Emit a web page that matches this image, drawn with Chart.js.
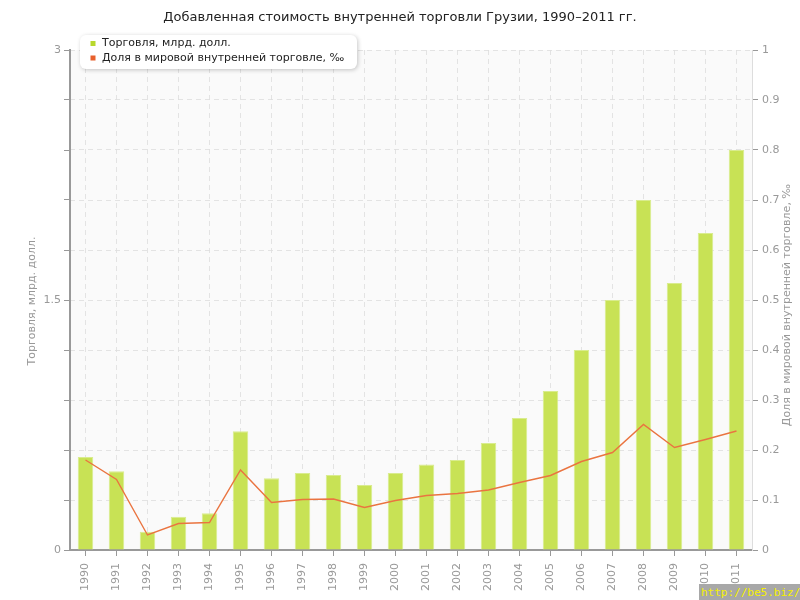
<!DOCTYPE html>
<html>
<head>
<meta charset="utf-8">
<script src="https://cdn.jsdelivr.net/npm/chart.js@4"></script>
<style>
html,body{margin:0;padding:0;background:#fff;}
#wrap{position:relative;width:800px;height:600px;}
#wm{position:absolute;left:699px;top:584px;width:101px;height:16px;background:#a8a8a8;color:#f5f000;font:11px "DejaVu Sans Mono",monospace;line-height:17px;padding-left:2px;box-sizing:border-box;white-space:nowrap;}
</style>
</head>
<body>
<div id="wrap">
<canvas id="c" width="800" height="600"></canvas>
<div id="wm">http://be5.biz/</div>
</div>
<script>
const titleText = 'Добавленная стоимость внутренней торговли Грузии, 1990–2011 гг.';
const years = ['1990','1991','1992','1993','1994','1995','1996','1997','1998','1999','2000','2001','2002','2003','2004','2005','2006','2007','2008','2009','2010','2011'];
const tradeValues = [0.558, 0.473, 0.11, 0.2, 0.22, 0.712, 0.43, 0.462, 0.45, 0.39, 0.462, 0.513, 0.54, 0.642, 0.792, 0.954, 1.2, 1.5, 2.1, 1.602, 1.902, 2.4];
const shareValues = [0.18, 0.141, 0.03, 0.053, 0.055, 0.16, 0.095, 0.101, 0.102, 0.085, 0.099, 0.109, 0.113, 0.12, 0.135, 0.149, 0.177, 0.195, 0.251, 0.205, 0.221, 0.238];
const leftTitle = 'Торговля, млрд. долл.';
const rightTitle = 'Доля в мировой внутренней торговле, ‰';
const seriesNames = ['Торговля, млрд. долл.', 'Доля в мировой внутренней торговле, ‰'];

const FONT = '"DejaVu Sans", Verdana, sans-serif';

const decor = {
  id: 'decor',
  beforeDraw(chart) {
    const {ctx, chartArea: a} = chart;
    ctx.save();
    ctx.fillStyle = '#fafafa';
    ctx.fillRect(a.left, a.top, a.right - a.left, a.bottom - a.top);
    ctx.restore();
  },
  afterDraw(chart) {
    const {ctx} = chart;
    ctx.save();
    ctx.fillStyle = '#222';
    ctx.font = '13px ' + FONT;
    ctx.textAlign = 'center';
    ctx.textBaseline = 'middle';
    ctx.fillText(titleText, 400, 18);
    ctx.fillStyle = '#999';
    ctx.font = '11px ' + FONT;
    ctx.save();
    ctx.translate(32, 301);
    ctx.rotate(-Math.PI / 2);
    ctx.fillText(leftTitle, 0, 0);
    ctx.restore();
    ctx.save();
    ctx.translate(787, 305);
    ctx.rotate(-Math.PI / 2);
    ctx.fillText(rightTitle, 0, 0);
    ctx.restore();
    const x = 80, y = 35, w = 277, h = 34, r = 6;
    ctx.save();
    ctx.shadowColor = 'rgba(0,0,0,0.22)';
    ctx.shadowBlur = 4;
    ctx.shadowOffsetX = 1;
    ctx.shadowOffsetY = 1;
    ctx.fillStyle = '#fff';
    ctx.beginPath();
    ctx.roundRect(x, y, w, h, r);
    ctx.fill();
    ctx.restore();
    const ds = chart.data.datasets;
    const legendOrder = [1, 0];
    const colors = ['#b8d82c', '#e8602c'];
    ctx.font = '11px ' + FONT;
    ctx.textAlign = 'left';
    ctx.textBaseline = 'middle';
    legendOrder.forEach((di, i) => {
      const cy = 43.5 + i * 14.5;
      ctx.fillStyle = colors[i];
      ctx.fillRect(90.5, cy - 2.5, 5, 5);
      ctx.fillStyle = '#222';
      ctx.fillText(ds[di].label, 102, cy);
    });
    ctx.restore();
  }
};

const gridColor = 'rgba(222,222,222,0.85)';

new Chart(document.getElementById('c'), {
  data: {
    labels: years,
    datasets: [
      {
        type: 'line',
        label: seriesNames[1],
        data: shareValues,
        yAxisID: 'y1',
        borderColor: '#ea7440',
        borderWidth: 1.4,
        pointRadius: 0,
        tension: 0,
        order: 0
      },
      {
        type: 'bar',
        label: seriesNames[0],
        data: tradeValues,
        yAxisID: 'y',
        backgroundColor: '#c8e255',
        borderColor: '#d9ec8e',
        borderWidth: 1,
        barPercentage: 0.5,
        categoryPercentage: 1,
        order: 1
      }
    ]
  },
  options: {
    responsive: false,
    animation: false,
    events: [],
    layout: {padding: {top: 50, left: 0, right: 0, bottom: 0}},
    plugins: {legend: {display: false}, title: {display: false}, tooltip: {enabled: false}},
    scales: {
      x: {
        offset: true,
        z: 1,
        grid: {offset: false, color: gridColor, tickColor: '#999', tickLength: 6, lineWidth: 1},
        border: {color: '#999', width: 2, dash: [5, 4]},
        ticks: {color: '#999', font: {family: FONT, size: 11}, minRotation: 90, maxRotation: 90, padding: 7, autoSkip: false},
        afterFit(s) { s.height = 50; }
      },
      y: {
        position: 'left',
        min: 0, max: 3,
        grid: {drawOnChartArea: false, tickColor: '#999', tickLength: 6},
        border: {color: '#999', width: 2},
        ticks: {
          stepSize: 0.3, color: '#999', font: {family: FONT, size: 11}, padding: 3,
          callback: (v, i) => (i % 5 === 0 ? String(Math.round(v * 10) / 10) : '')
        },
        afterFit(s) { s.width = 70; }
      },
      y1: {
        position: 'right',
        min: 0, max: 1,
        z: 1,
        grid: {drawOnChartArea: true, color: gridColor, tickColor: '#999', tickLength: 6},
        border: {color: '#ddd', width: 1, dash: [5, 4]},
        ticks: {
          stepSize: 0.1, color: '#999', font: {family: FONT, size: 11}, padding: 4,
          callback: (v) => String(Math.round(v * 10) / 10)
        },
        afterFit(s) { s.width = 48; }
      }
    }
  },
  plugins: [decor]
});
</script>
</body>
</html>
